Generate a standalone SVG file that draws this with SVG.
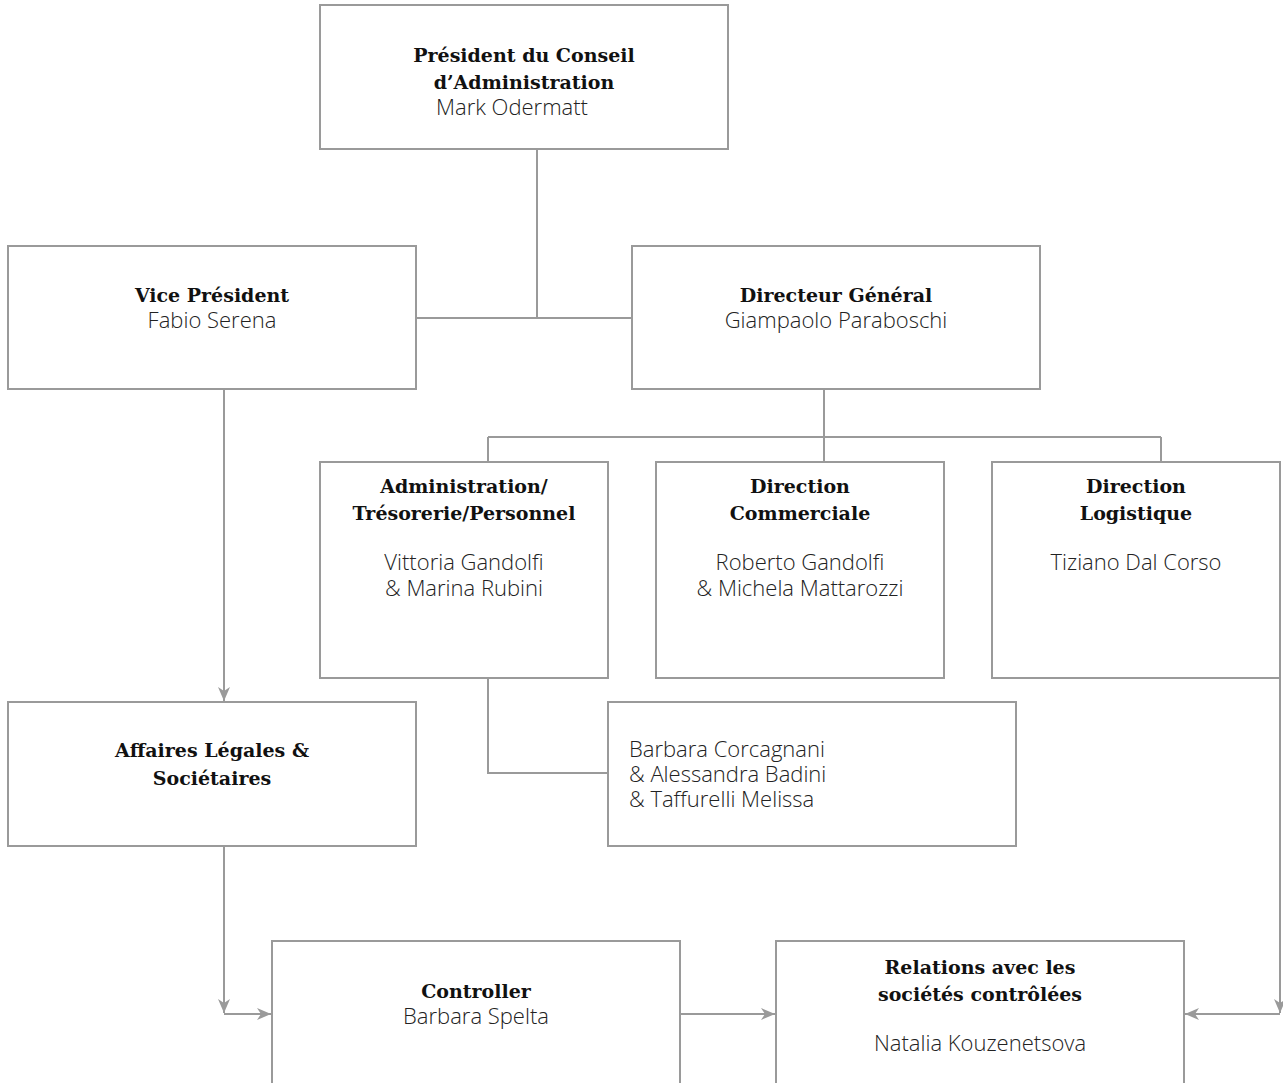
<svg xmlns="http://www.w3.org/2000/svg" width="1283" height="1083" viewBox="0 0 1283 1083">
<style>
.box{fill:#fff;stroke:#9a9a9a;stroke-width:2}
.ln{fill:none;stroke:#9a9a9a;stroke-width:2}
.t{font-family:"DejaVu Serif",serif;font-weight:bold;font-size:19px;fill:#111;text-anchor:middle}
.n{font-family:"Open Sans","Noto Sans",sans-serif;font-weight:300;font-size:22px;fill:#222;text-anchor:middle}
.l{text-anchor:start}
</style>
<defs>
<marker id="ah" viewBox="0 0 14 12" refX="14" refY="6" markerWidth="14" markerHeight="12" markerUnits="userSpaceOnUse" orient="auto">
<path d="M0,0 L14,6 L0,12 L4,6 Z" fill="#9a9a9a"/>
</marker>
</defs>
<rect width="1283" height="1083" fill="#fff"/>
<g id="connectors">
<path class="ln" d="M537,149 V318"/>
<path class="ln" d="M416,318 H632"/>
<path class="ln" d="M824,389 V437 M488,437 H1161 M488,437 V462 M824,437 V462 M1161,437 V462"/>
<path class="ln" d="M224,389 V701" marker-end="url(#ah)"/>
<path class="ln" d="M488,678 V773 H608"/>
<path class="ln" d="M224,846 V1013" marker-end="url(#ah)"/>
<path class="ln" d="M224,1014 H271" marker-end="url(#ah)"/>
<path class="ln" d="M680,1014 H775" marker-end="url(#ah)"/>
<path class="ln" d="M1280,678 V1013" marker-end="url(#ah)"/>
<path class="ln" d="M1280,1014 H1185" marker-end="url(#ah)"/>
</g>
<g id="president">
<rect class="box" x="320" y="5" width="408" height="144"/>
<text class="t" x="524" y="62">Président du Conseil</text>
<text class="t" x="524" y="89">d’Administration</text>
<text class="n" x="512" y="115">Mark Odermatt</text>
</g>
<g id="vice">
<rect class="box" x="8" y="246" width="408" height="143"/>
<text class="t" x="212" y="302">Vice Président</text>
<text class="n" x="212" y="328">Fabio Serena</text>
</g>
<g id="dg">
<rect class="box" x="632" y="246" width="408" height="143"/>
<text class="t" x="836" y="302">Directeur Général</text>
<text class="n" x="836" y="328">Giampaolo Paraboschi</text>
</g>
<g id="admin">
<rect class="box" x="320" y="462" width="288" height="216"/>
<text class="t" x="464" y="493">Administration/</text>
<text class="t" x="464" y="520">Trésorerie/Personnel</text>
<text class="n" x="464" y="570">Vittoria Gandolfi</text>
<text class="n" x="464" y="596">&amp; Marina Rubini</text>
</g>
<g id="commercial">
<rect class="box" x="656" y="462" width="288" height="216"/>
<text class="t" x="800" y="493">Direction</text>
<text class="t" x="800" y="520">Commerciale</text>
<text class="n" x="800" y="570">Roberto Gandolfi</text>
<text class="n" x="800" y="596">&amp; Michela Mattarozzi</text>
</g>
<g id="logistique">
<rect class="box" x="992" y="462" width="288" height="216"/>
<text class="t" x="1136" y="493">Direction</text>
<text class="t" x="1136" y="520">Logistique</text>
<text class="n" x="1136" y="570">Tiziano Dal Corso</text>
</g>
<g id="affaires">
<rect class="box" x="8" y="702" width="408" height="144"/>
<text class="t" x="212" y="757">Affaires Légales &amp;</text>
<text class="t" x="212" y="785">Sociétaires</text>
</g>
<g id="assistants">
<rect class="box" x="608" y="702" width="408" height="144"/>
<text class="n l" x="629" y="757">Barbara Corcagnani</text>
<text class="n l" x="629" y="782">&amp; Alessandra Badini</text>
<text class="n l" x="629" y="807">&amp; Taffurelli Melissa</text>
</g>
<g id="controller">
<rect class="box" x="272" y="941" width="408" height="160"/>
<text class="t" x="476" y="998">Controller</text>
<text class="n" x="476" y="1024">Barbara Spelta</text>
</g>
<g id="relations">
<rect class="box" x="776" y="941" width="408" height="160"/>
<text class="t" x="980" y="974">Relations avec les</text>
<text class="t" x="980" y="1001">sociétés contrôlées</text>
<text class="n" x="980" y="1051">Natalia Kouzenetsova</text>
</g>
</svg>
